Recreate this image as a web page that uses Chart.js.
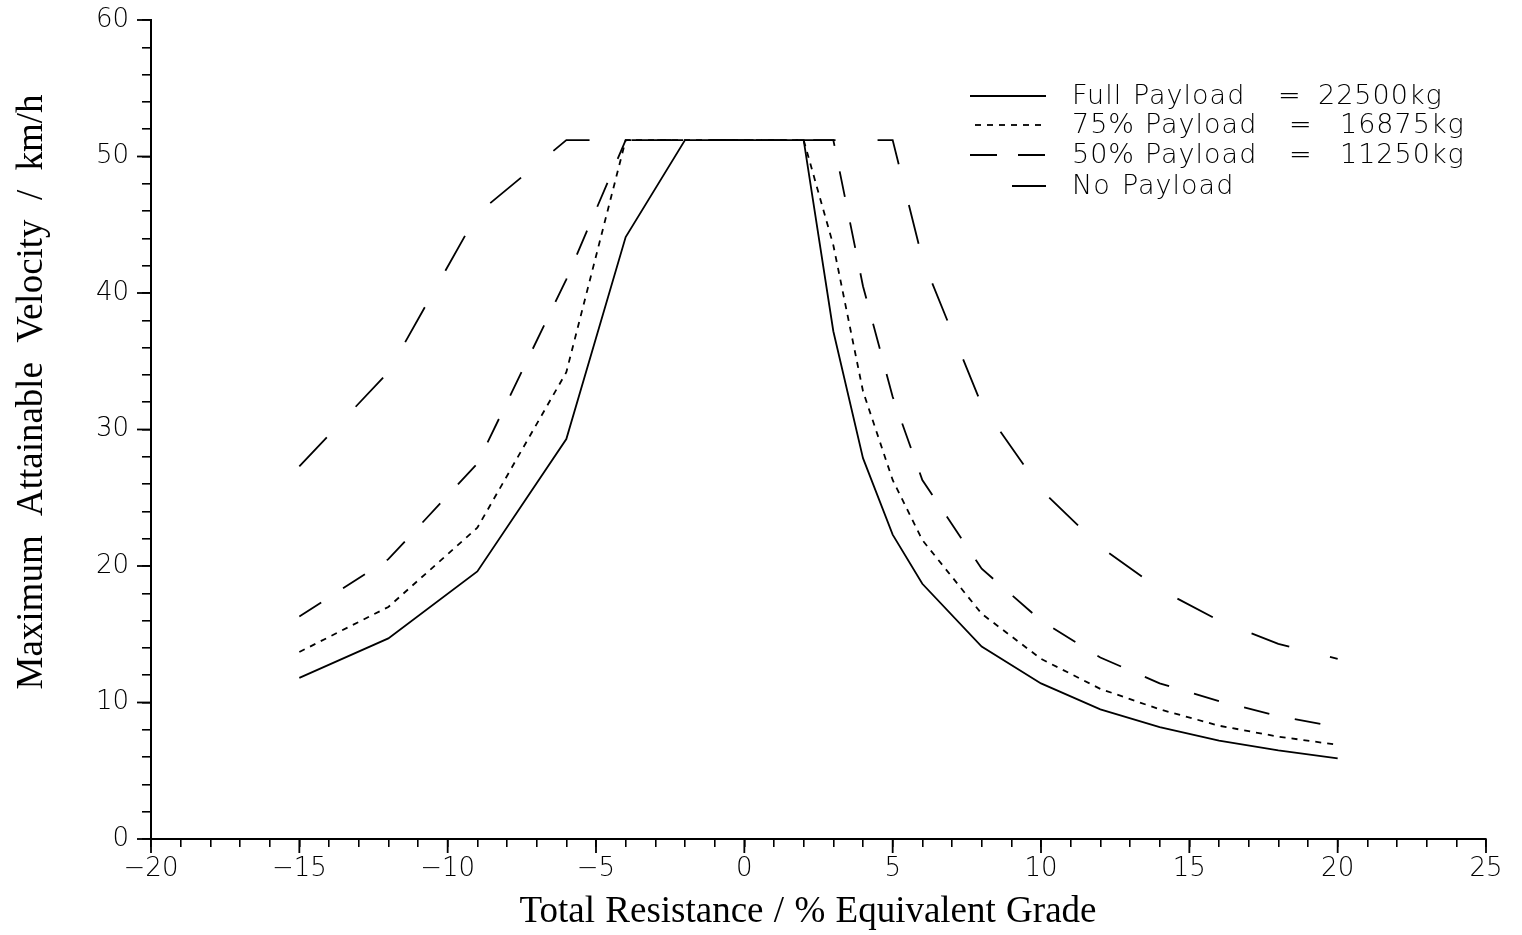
<!DOCTYPE html>
<html>
<head>
<meta charset="utf-8">
<script src="https://cdn.jsdelivr.net/npm/chart.js@4/dist/chart.umd.min.js"></script>
<style>
  html, body { margin: 0; padding: 0; background: #fff; }
  canvas { display: block; }
</style>
</head>
<body>
<canvas id="chart" width="1522" height="935"></canvas>
<script>
// Total resistance (% equivalent grade) at which the velocity was evaluated
const grades = [-15, -12, -9, -6, -4, -2, 0, 2, 3, 4, 5, 6, 8, 10, 12, 14, 16, 18, 20];

// Maximum attainable velocity (km/h) for each payload case
const fullPayload = [11.8, 14.7, 19.6, 29.3, 44.1, 51.2, 51.2, 51.2, 37.2, 27.9, 22.3, 18.7, 14.1, 11.4, 9.5, 8.2, 7.2, 6.5, 5.9];
const payload75   = [13.7, 17.0, 22.8, 34.2, 51.2, 51.2, 51.2, 51.2, 43.5, 32.8, 26.3, 21.9, 16.5, 13.2, 11.0, 9.5, 8.3, 7.5, 6.9];
const payload50   = [16.3, 20.5, 27.5, 41.0, 51.2, 51.2, 51.2, 51.2, 51.2, 40.5, 32.4, 26.3, 19.8, 16.0, 13.3, 11.4, 10.1, 9.0, 8.2];
const noPayload   = [27.3, 34.2, 45.8, 51.2, 51.2, 51.2, 51.2, 51.2, 51.2, 51.2, 51.2, 42.5, 31.8, 25.6, 21.4, 18.3, 16.0, 14.3, 13.2];

// Legend rows: words laid out in columns
const legendRows = [
  ['Full', 'Payload', '=', '22500kg'],
  ['75%', 'Payload', '=', '16875kg'],
  ['50%', 'Payload', '=', '11250kg'],
  ['No', 'Payload']
];

const xTitle = 'Total Resistance / % Equivalent Grade';
const yTitle = 'Maximum Attainable Velocity / km/h';

const dashes = {
  full: [],
  p75: [6, 6],
  p50: [26, 26],
  none: [40, 42]
};

const toPoints = ys => grades.map((g, i) => ({ x: g, y: ys[i] }));

const tickFont = { family: "'DejaVu Sans', sans-serif", size: 26, weight: '200' };
const sansFont = "200 27px 'DejaVu Sans', sans-serif";
const serifFont = "37px 'Liberation Serif', 'DejaVu Serif', serif";

const fmt = v => (v < 0 ? '\u2212' + Math.abs(v) : String(v));

// draw words centred at (0,0) spread over a given overall width
function spreadWords(ctx, text, total) {
  const words = text.split(' ');
  const widths = words.map(w => ctx.measureText(w).width);
  const sum = widths.reduce((a, b) => a + b, 0);
  const gap = (total - sum) / (words.length - 1);
  let x = -total / 2;
  ctx.textAlign = 'left';
  words.forEach((w, i) => {
    ctx.fillText(w, x, 0);
    x += widths[i] + gap;
  });
}

const decorations = {
  id: 'decorations',
  afterDraw(chart) {
    const { ctx, chartArea, scales } = chart;
    const xs = scales.x, ys = scales.y;
    ctx.save();
    ctx.strokeStyle = '#000';
    ctx.lineWidth = 1.8;
    ctx.setLineDash([]);
    // longer marks at the labelled ticks
    for (let v = -20; v <= 25; v += 5) {
      const px = xs.getPixelForValue(v);
      ctx.beginPath();
      ctx.moveTo(px, chartArea.bottom);
      ctx.lineTo(px, chartArea.bottom + 14);
      ctx.stroke();
    }
    for (let v = 0; v <= 60; v += 10) {
      const py = ys.getPixelForValue(v);
      ctx.beginPath();
      ctx.moveTo(chartArea.left - 14, py);
      ctx.lineTo(chartArea.left, py);
      ctx.stroke();
    }

    // axis titles
    ctx.fillStyle = '#000';
    ctx.font = serifFont;
    ctx.textBaseline = 'middle';
    ctx.save();
    ctx.translate(808, 912);
    spreadWords(ctx, xTitle, 577);
    ctx.restore();
    ctx.save();
    ctx.translate(32, 392);
    ctx.rotate(-Math.PI / 2);
    spreadWords(ctx, yTitle, 595);
    ctx.restore();

    // legend
    const rowY = [96, 125, 155, 186];
    const samples = [
      { dash: dashes.full, x0: 970, x1: 1046 },
      { dash: dashes.p75, x0: 975, x1: 1046 },
      { dash: [27, 21], x0: 970, x1: 1046 },
      { dash: [], x0: 1012, x1: 1046 }
    ];
    const cols = [
      [1072, 1133, 1278, 1318],
      [1072, 1145, 1289, 1340],
      [1072, 1145, 1289, 1340],
      [1072, 1122]
    ];
    ctx.textAlign = 'left';
    ctx.font = sansFont;
    ctx.letterSpacing = '1px';
    legendRows.forEach((row, r) => {
      const s = samples[r];
      ctx.setLineDash(s.dash);
      ctx.lineWidth = 1.8;
      ctx.beginPath();
      ctx.moveTo(s.x0, rowY[r]);
      ctx.lineTo(s.x1, rowY[r]);
      ctx.stroke();
      ctx.setLineDash([]);
      row.forEach((word, k) => ctx.fillText(word, cols[r][k], rowY[r] + 1));
    });
    ctx.letterSpacing = '0px';
    ctx.restore();
  }
};

const lineSet = (label, ys, dash) => ({
  label,
  data: toPoints(ys),
  borderColor: '#000',
  borderWidth: 1.8,
  borderDash: dash,
  borderCapStyle: 'butt',
  pointRadius: 0,
  tension: 0,
  fill: false
});

new Chart(document.getElementById('chart'), {
  type: 'line',
  data: {
    datasets: [
      lineSet('Full Payload = 22500kg', fullPayload, dashes.full),
      lineSet('75% Payload = 16875kg', payload75, dashes.p75),
      lineSet('50% Payload = 11250kg', payload50, dashes.p50),
      lineSet('No Payload', noPayload, dashes.none)
    ]
  },
  options: {
    responsive: false,
    animation: false,
    devicePixelRatio: 1,
    layout: { padding: { top: 20, right: 36, left: 0, bottom: 0 } },
    plugins: { legend: { display: false }, tooltip: { enabled: false } },
    scales: {
      x: {
        type: 'linear',
        min: -20, max: 25,
        afterFit: s => { s.height = 96; },
        ticks: {
          stepSize: 1, autoSkip: false, maxRotation: 0, padding: 7,
          color: '#000', font: tickFont,
          callback: v => (v % 5 === 0 ? fmt(v) : '')
        },
        grid: { display: true, drawOnChartArea: false, drawTicks: true, tickLength: 8, color: '#000', lineWidth: 1.6 },
        border: { display: true, color: '#000', width: 2 }
      },
      y: {
        min: 0, max: 60,
        afterFit: s => { s.width = 151; s.paddingTop = 0; s.paddingBottom = 0; },
        ticks: {
          stepSize: 2, autoSkip: false, padding: 13,
          color: '#000', font: tickFont,
          callback: v => (v % 10 === 0 ? fmt(v) : '')
        },
        grid: { display: true, drawOnChartArea: false, drawTicks: true, tickLength: 9, color: '#000', lineWidth: 1.6 },
        border: { display: true, color: '#000', width: 2 }
      }
    }
  },
  plugins: [decorations]
});
</script>
</body>
</html>
